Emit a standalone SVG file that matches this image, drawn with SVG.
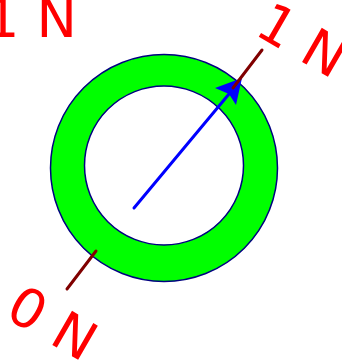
<svg xmlns="http://www.w3.org/2000/svg" width="342" height="360" viewBox="0 0 342 360">
<style>
.lbl{font-family:"DejaVu Sans",sans-serif;font-size:54px;fill:#ff0000}
.tick{stroke:#800000;stroke-width:3;stroke-linecap:round}
</style>
<rect width="342" height="360" fill="#ffffff"/>
<g id="ring">
<circle cx="164" cy="168" r="113.5" fill="#00ff00" stroke="#000080" stroke-width="1.5"/>
<circle cx="164" cy="165.5" r="79.5" fill="#ffffff" stroke="#000080" stroke-width="1.5"/>
</g>
<g id="connectors">
<line x1="134" y1="208" x2="229" y2="94" stroke="#0000ff" stroke-width="3" stroke-linecap="round"/>
<polygon points="242,78 236,105 229,94 215,88" fill="#0000ff"/>
<line class="tick" x1="233" y1="88" x2="262" y2="50"/>
<line class="tick" x1="96" y1="251" x2="67" y2="289"/>
</g>
<g id="label-top-left"><text class="lbl" x="-15" y="37">1 N</text></g>
<g id="label-top-right"><text class="lbl" transform="translate(253,33.6) rotate(30)">1 N</text></g>
<g id="label-bottom-left"><text class="lbl" transform="translate(3.2,316.4) rotate(30)">0 N</text></g>
</svg>
